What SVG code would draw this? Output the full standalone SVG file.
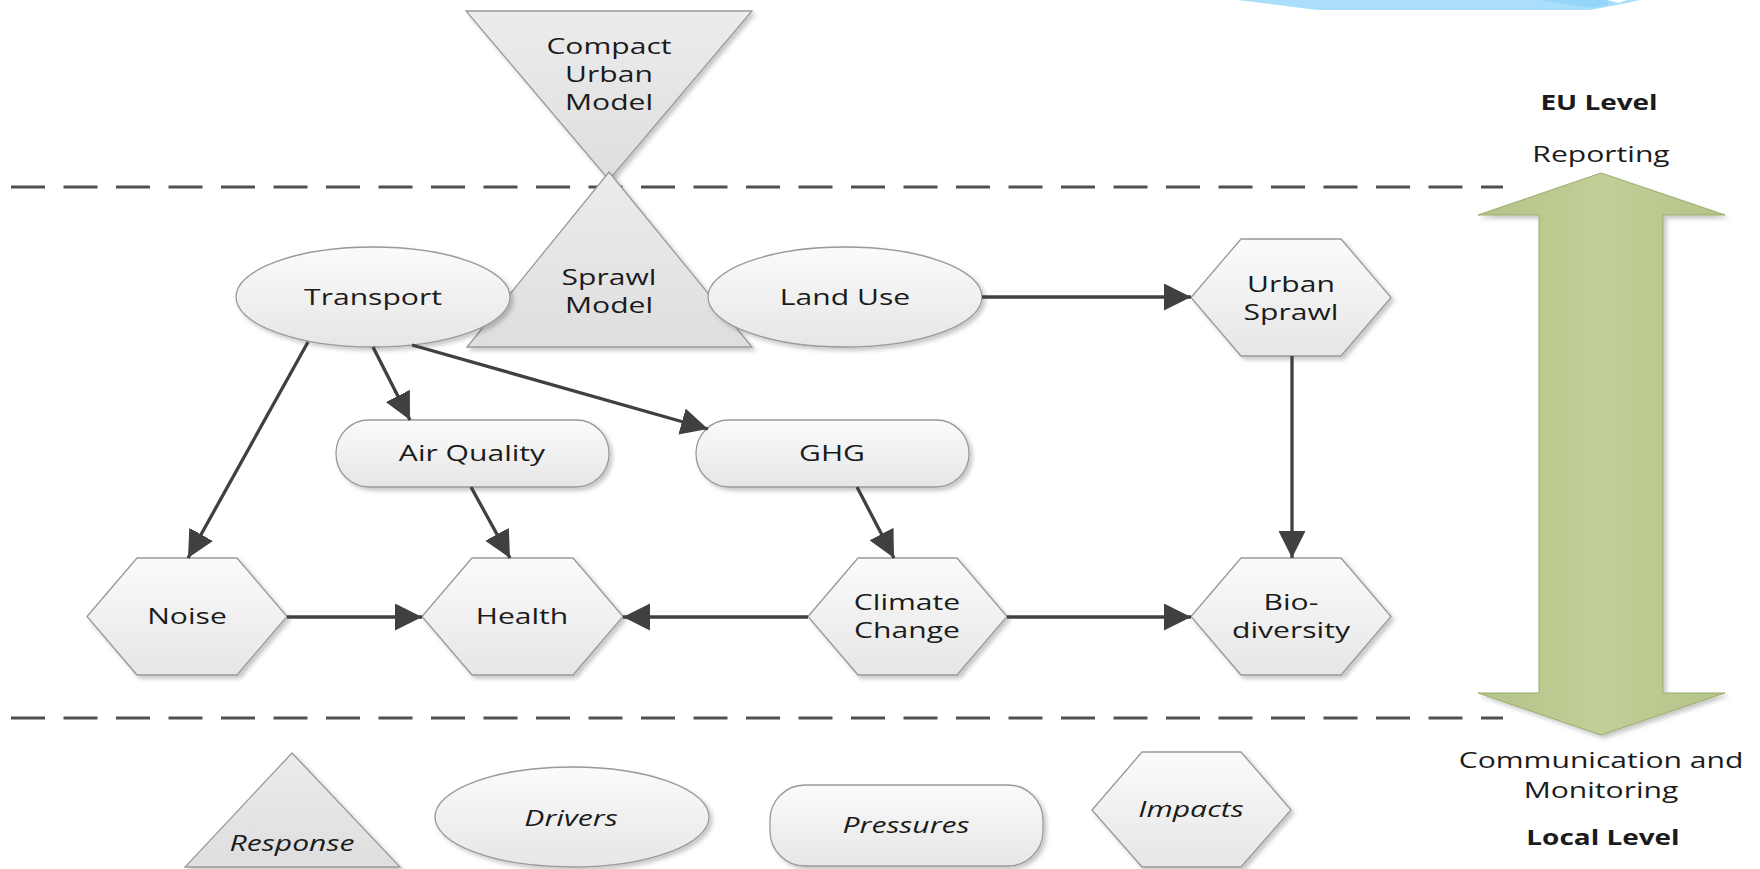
<svg xmlns="http://www.w3.org/2000/svg" width="1760" height="869" viewBox="0 0 1760 869">
<defs>
<linearGradient id="gShape" x1="0" y1="0" x2="0" y2="1">
<stop offset="0" stop-color="#fbfbfb"/>
<stop offset="1" stop-color="#e6e6e6"/>
</linearGradient>
<linearGradient id="gTri" x1="0" y1="0" x2="0" y2="1">
<stop offset="0" stop-color="#ececec"/>
<stop offset="1" stop-color="#dedede"/>
</linearGradient>
<linearGradient id="gGreen" x1="0" y1="0" x2="1" y2="0">
<stop offset="0" stop-color="#b4c388"/>
<stop offset="0.5" stop-color="#c1cf98"/>
<stop offset="1" stop-color="#b4c388"/>
</linearGradient>
<filter id="sh" x="-10%" y="-10%" width="130%" height="130%">
<feDropShadow dx="3" dy="3" stdDeviation="2" flood-color="#000" flood-opacity="0.22"/>
</filter>
<marker id="ah" markerUnits="userSpaceOnUse" markerWidth="28" markerHeight="28" refX="27" refY="13.5" orient="auto">
<path d="M0,0 L27,13.5 L0,27 Z" fill="#404040"/>
</marker>
</defs>
<style>
.shape{fill:url(#gShape);stroke:#999;stroke-width:1.3;filter:url(#sh)}
.tri{fill:url(#gTri);stroke:#999;stroke-width:1.3;filter:url(#sh)}
.t{font-family:"Open Sans","Liberation Sans",sans-serif;font-size:21.5px;fill:#1b1b1b;text-anchor:middle}
.i{font-style:italic}
.b{font-weight:bold}
.dash{stroke:#505050;stroke-width:3.2;stroke-dasharray:34 18.5;fill:none}
.c{stroke:#404040;stroke-width:3.3;fill:none;marker-end:url(#ah)}
</style>
<rect width="1760" height="869" fill="#ffffff"/>
<g id="decoration">
<polygon points="1238,0 1318,10 1590,10 1622,4 1640,0" fill="#aadefb"/>
<polygon points="1540,0 1592,8 1608,5 1608,0" fill="#93d5fb"/>
<polygon points="1608,0 1627,0 1618,3" fill="#ffffff"/>
</g>
<g id="dividers">
<line class="dash" x1="11" y1="187" x2="1503" y2="187"/>
<line class="dash" x1="11" y1="718" x2="1503" y2="718"/>
</g>
<g id="compact-urban-model">
<polygon class="tri" points="466,11 752,11 609,180"/>
<text class="t" transform="translate(609 54) scale(1.4 1)"><tspan x="0" y="0">Compact</tspan><tspan x="0" y="28">Urban</tspan><tspan x="0" y="56">Model</tspan></text>
</g>
<g id="sprawl-model">
<polygon class="tri" points="609,172 752,347 467,347"/>
<text class="t" transform="translate(609 285) scale(1.4 1)"><tspan x="0" y="0">Sprawl</tspan><tspan x="0" y="28">Model</tspan></text>
</g>
<g id="transport">
<ellipse class="shape" cx="373" cy="297" rx="137" ry="50"/>
<text class="t" transform="translate(373 305) scale(1.4 1)">Transport</text>
</g>
<g id="land-use">
<ellipse class="shape" cx="845" cy="297" rx="137" ry="50"/>
<text class="t" transform="translate(845 305) scale(1.4 1)">Land Use</text>
</g>
<g id="urban-sprawl">
<polygon class="shape" points="1191,297.5 1241,239 1341,239 1391,297.5 1341,356 1241,356"/>
<text class="t" transform="translate(1291 292) scale(1.4 1)"><tspan x="0" y="0">Urban</tspan><tspan x="0" y="28">Sprawl</tspan></text>
</g>
<g id="air-quality">
<rect class="shape" x="336" y="420" width="273" height="67" rx="33" ry="33"/>
<text class="t" transform="translate(472 461) scale(1.4 1)">Air Quality</text>
</g>
<g id="ghg">
<rect class="shape" x="696" y="420" width="273" height="67" rx="33" ry="33"/>
<text class="t" transform="translate(832 461) scale(1.4 1)">GHG</text>
</g>
<g id="noise">
<polygon class="shape" points="87,616.5 137,558 237,558 287,616.5 237,675 137,675"/>
<text class="t" transform="translate(187 624) scale(1.4 1)">Noise</text>
</g>
<g id="health">
<polygon class="shape" points="422,616.5 472,558 573,558 623,616.5 573,675 472,675"/>
<text class="t" transform="translate(522 624) scale(1.4 1)">Health</text>
</g>
<g id="climate-change">
<polygon class="shape" points="808,616.5 858,558 957,558 1007,616.5 957,675 858,675"/>
<text class="t" transform="translate(907 610) scale(1.4 1)"><tspan x="0" y="0">Climate</tspan><tspan x="0" y="28">Change</tspan></text>
</g>
<g id="biodiversity">
<polygon class="shape" points="1191,616.5 1241,558 1341,558 1391,616.5 1341,675 1241,675"/>
<text class="t" transform="translate(1291 610) scale(1.4 1)"><tspan x="0" y="0">Bio-</tspan><tspan x="0" y="28">diversity</tspan></text>
</g>
<g id="connectors">
<line class="c" x1="308" y1="342" x2="188" y2="558"/>
<line class="c" x1="373" y1="347" x2="410" y2="420"/>
<line class="c" x1="412" y1="345" x2="708" y2="429"/>
<line class="c" x1="471" y1="487" x2="510" y2="558"/>
<line class="c" x1="857" y1="487" x2="894" y2="558"/>
<line class="c" x1="982" y1="297" x2="1191" y2="297"/>
<line class="c" x1="1292" y1="356" x2="1292" y2="558"/>
<line class="c" x1="287" y1="617" x2="422" y2="617"/>
<line class="c" x1="808" y1="617" x2="623" y2="617"/>
<line class="c" x1="1007" y1="617" x2="1191" y2="617"/>
</g>
<g id="level-arrow">
<polygon points="1601,173 1725,215 1663,215 1663,693 1725,693 1601,735 1478,693 1539,693 1539,215 1478,215" fill="url(#gGreen)" stroke="#9aab6b" stroke-width="1" filter="url(#sh)"/>
</g>
<g id="level-labels">
<text class="t b" transform="translate(1599 110) scale(1.3 1)">EU Level</text>
<text class="t" transform="translate(1601 162) scale(1.4 1)">Reporting</text>
<text class="t" transform="translate(1601 768) scale(1.4 1)"><tspan x="0" y="0">Communication and</tspan><tspan x="0" y="30">Monitoring</tspan></text>
<text class="t b" transform="translate(1603 845) scale(1.3 1)">Local Level</text>
</g>
<g id="legend-response">
<polygon class="tri" points="292,753 400,867 185,867"/>
<text class="t i" transform="translate(292 851) scale(1.4 1)">Response</text>
</g>
<g id="legend-drivers">
<ellipse class="shape" cx="572" cy="817" rx="137" ry="50"/>
<text class="t i" transform="translate(571 826) scale(1.4 1)">Drivers</text>
</g>
<g id="legend-pressures">
<rect class="shape" x="770" y="785" width="273" height="81" rx="35" ry="35"/>
<text class="t i" transform="translate(906 833) scale(1.4 1)">Pressures</text>
</g>
<g id="legend-impacts">
<polygon class="shape" points="1092,810 1142,752 1241,752 1291,810 1241,867 1142,867"/>
<text class="t i" transform="translate(1191 817) scale(1.4 1)">Impacts</text>
</g>
</svg>
